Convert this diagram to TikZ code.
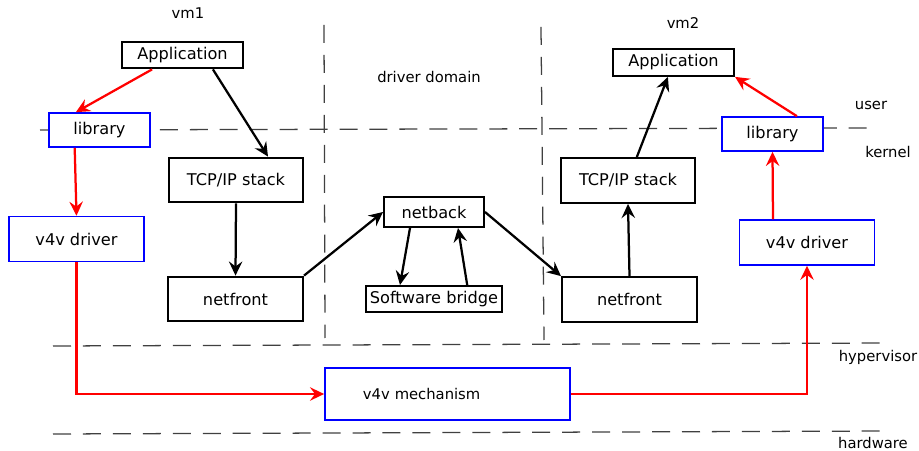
\documentclass[tikz,border=0pt]{standalone}
\usepackage{fontspec}
\setmainfont{DejaVu Sans}
\usetikzlibrary{arrows.meta, positioning, backgrounds}

\begin{document}
\begin{tikzpicture}[
    x=0.025cm, y=-0.025cm,
    box/.style={rectangle, draw=black, line width=1.4pt, fill=white, inner sep=0pt, font=\fontsize{11.5}{13}\selectfont},
    appbox/.style={box, minimum width=3.025cm, minimum height=0.67cm},
    stackbox/.style={box, minimum width=3.375cm, minimum height=1.12cm},
    libbox/.style={box, draw=blue, line width=1.2pt, minimum width=2.525cm, minimum height=0.85cm},
    drvbox/.style={stackbox, draw=blue, line width=1.2pt},
    arrow/.style={-{Stealth[length=10pt, width=9.5pt, inset=3.5pt]}, line width=1.6pt},
    v4varrow/.style={arrow, red},
    divider/.style={dash pattern=on 12.8pt off 8.5pt, line width=0.9pt, black!75},
    labelstyle/.style={font=\fontsize{10.5}{12}\selectfont}
]
\useasboundingbox (0,0) rectangle (919,451);

% === Domain borders ===
\draw[divider] (40,130) -- (870,128);
\draw[divider] (53,346) -- (888,343);
\draw[divider] (53,434) -- (888,431);
\draw[divider] (324,25) -- (325,338);
\draw[divider] (541,27) -- (544,340);

% === Labels ===
\node[labelstyle] (vm1) at (188,13) {vm1};
\node[labelstyle] (dd) at (429,77) {driver domain};
\node[labelstyle] (vm2) at (683,23) {vm2};
\node[labelstyle] (user) at (871,105) {user};
\node[labelstyle] (kernel) at (888,152) {kernel};
\node[labelstyle] (hyp) at (878,357) {hypervisor};
\node[labelstyle] (hw) at (873,443) {hardware};

% === vm1 ===
\node[appbox] (app1) at (182.5,55) {Application};
\node[libbox] (lib1) at (99.5,130) {library};
\node[stackbox, minimum width=3.35cm] (tcp1) at (236,180) {TCP/IP stack};
\node[drvbox] (drv1) at (76.5,239) {v4v driver};
\node[stackbox] (nf1) at (235.5,299) {netfront};

% === driver domain ===
\node[box, minimum width=2.5cm, minimum height=0.75cm] (nb) at (434,212) {netback};
\node[box, minimum width=3.4cm, minimum height=0.65cm] (br) at (434,299) {Software bridge};

% === vm2 ===
\node[appbox] (app2) at (673.5,62.5) {Application};
\node[libbox] (lib2) at (772.5,134) {library};
\node[stackbox, minimum width=3.35cm] (tcp2) at (628,180.5) {TCP/IP stack};
\node[drvbox] (drv2) at (807,242.5) {v4v driver};
\node[stackbox] (nf2) at (629.5,299.5) {netfront};

% === hypervisor ===
\node[box, draw=blue, line width=1.2pt, font=\fontsize{10.5}{12}\selectfont, text width=4.225cm, align=left,
      inner xsep=0.95cm, minimum height=1.3cm] (mech) at (447.5,394) {v4v mechanism};

% === Network path ===
\draw[arrow] ([xshift=0.76cm]app1.south) -- ([xshift=0.8cm]tcp1.north);
\draw[arrow] (tcp1.south) -- (nf1.north);
\draw[arrow] (nf1.north east) -- (nb.west);
\draw[arrow] ([xshift=-0.6cm]nb.south) -- ([xshift=-0.85cm]br.north);
\draw[arrow] ([xshift=0.83cm]br.north) -- ([xshift=0.6cm]nb.south);
\draw[arrow] (nb.east) -- (nf2.north west);
\draw[arrow] (nf2.north) -- (tcp2.south);
\draw[arrow] ([xshift=0.22cm]tcp2.north) -- ([xshift=-0.14cm]app2.south);

% === v4v path ===
\draw[v4varrow] ([xshift=-0.76cm]app1.south) -- ([xshift=-0.59cm]lib1.north);
\draw[v4varrow] ([xshift=-0.62cm]lib1.south) -- (drv1.north);
\draw[v4varrow] (drv1.south) |- (mech.west);
\draw[v4varrow] (mech.east) -| (drv2.south);
\draw[v4varrow] ([xshift=-0.85cm]drv2.north) -- (lib2.south);
\draw[v4varrow] ([xshift=0.61cm]lib2.north) -- (app2.south east);

\end{tikzpicture}
\end{document}
